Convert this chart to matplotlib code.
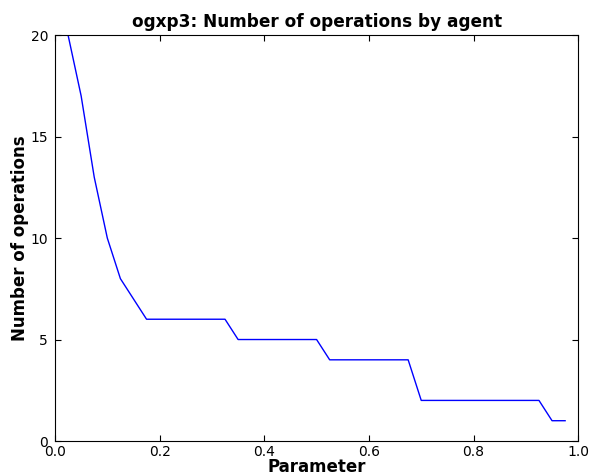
import matplotlib
matplotlib.use("Agg")
import matplotlib.pyplot as plt

params = [0.025, 0.05, 0.075, 0.1, 0.125, 0.15, 0.175, 0.2, 0.225, 0.25, 0.275, 0.3,
          0.325, 0.35, 0.375, 0.4, 0.425, 0.45, 0.475, 0.5, 0.525, 0.55, 0.575, 0.6,
          0.625, 0.65, 0.675, 0.7, 0.725, 0.75, 0.775, 0.8, 0.825, 0.85, 0.875, 0.9,
          0.925, 0.95, 0.975]
operations = [20, 17, 13, 10, 8, 7, 6, 6, 6, 6, 6, 6,
              6, 5, 5, 5, 5, 5, 5, 5, 4, 4, 4, 4,
              4, 4, 4, 2, 2, 2, 2, 2, 2, 2, 2, 2,
              2, 1, 1]

fig = plt.figure(figsize=(5.9, 4.74), dpi=100, facecolor="white")
ax = fig.add_axes([0.0932, 0.0696, 0.8868, 0.8564])
ax.plot(params, operations, color="#0000ff", linewidth=1)
ax.set_xlim(0, 1)
ax.set_ylim(0, 20)
ax.set_xticks([0, 0.2, 0.4, 0.6, 0.8, 1.0])
ax.set_yticks([0, 5, 10, 15, 20])
ax.tick_params(direction="in", top=True, right=True, length=4.5, labelsize=10)
ax.tick_params(axis="x", pad=3)
ax.tick_params(axis="y", pad=5)
ax.set_title("ogxp3: Number of operations by agent", fontsize=12.2, fontweight="bold", pad=6)
ax.set_xlabel("Parameter", fontsize=12, fontweight="bold", labelpad=-1)
ax.set_ylabel("Number of operations", fontsize=12, fontweight="bold", labelpad=1)
fig.savefig("out.png", dpi=100, facecolor="white")
